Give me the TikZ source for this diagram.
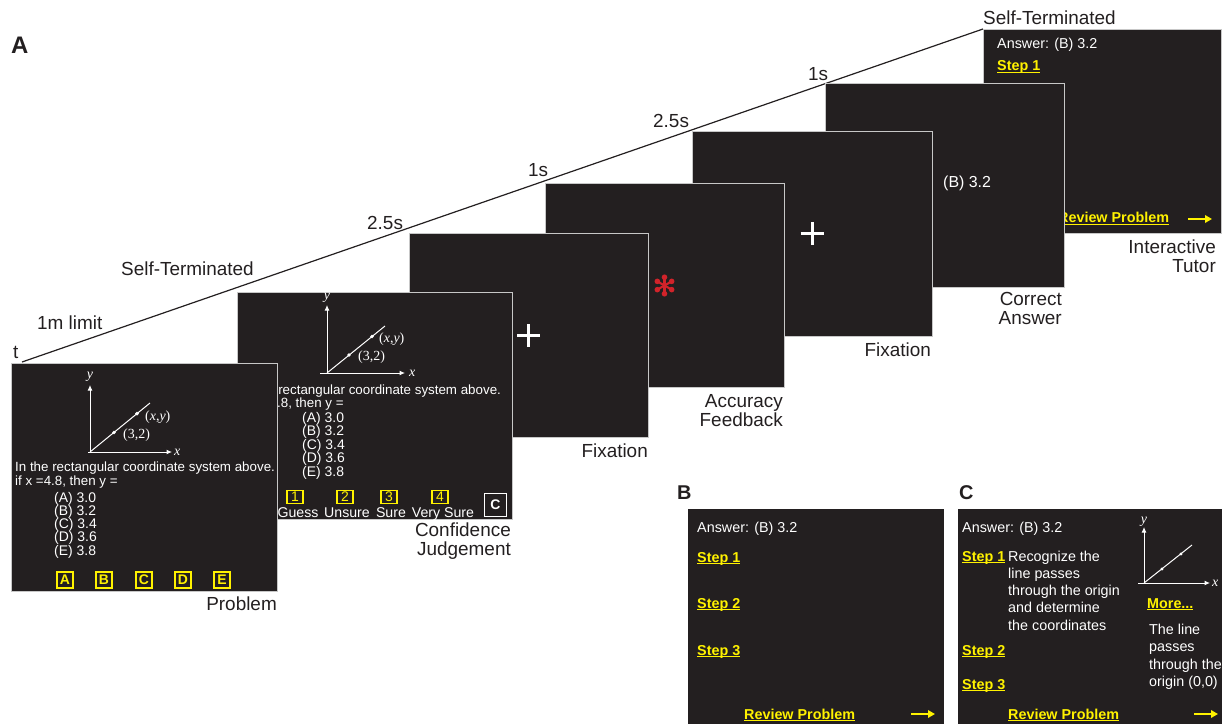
\documentclass[tikz,border=0pt]{standalone}
\usepackage{fontspec}
\setmainfont{Liberation Sans}
\newfontfamily\tms{Liberation Serif}
\usetikzlibrary{arrows.meta}
\definecolor{scr}{HTML}{231F20}
\definecolor{ylw}{HTML}{FFF200}
\definecolor{astred}{HTML}{D2232A}
\newcommand\fs[1]{\fontsize{#1}{#1}\selectfont}
\newsavebox\lnkbox
\newcommand\mylink[1]{\sbox\lnkbox{#1}\rlap{\rule[-1.9bp]{\wd\lnkbox}{1.2bp}}\usebox\lnkbox}
\begin{document}
\begin{tikzpicture}[x=1bp,y=-1bp,
  screen/.style={fill=scr, draw=black!22, line width=0.9bp, inner sep=0, outer sep=0, anchor=north west},
  panel/.style={fill=scr, inner sep=0, outer sep=0, anchor=north west},
  lbl/.style={inner sep=0, text=scr, font=\fs{19}},
  txt/.style={inner sep=0, text=white, font=\fs{14.4}},
  ptxt/.style={inner sep=0, text=white, font=\fs{13.4}},
  otxt/.style={inner sep=0, text=white, font=\fs{14}},
  ctxt/.style={inner sep=0, text=white, font=\fs{14.2}},
  link/.style={inner sep=0, text=ylw, font=\bfseries\fs{14.4}},
  ax/.style={white, line width=1bp, -{Latex[length=5.5bp,width=5bp]}},
  gl/.style={white, line width=1bp},
  gr/.style={inner sep=0, text=white, font=\tms\fs{14}},
  ybox/.style={draw=ylw, line width=1.4bp, minimum width=16bp, minimum height=16bp, inner sep=0, text=ylw, font=\bfseries\fs{14}},
  nbox/.style={draw=ylw, line width=1.1bp, minimum width=16bp, minimum height=13.5bp, inner sep=0, text=ylw, font=\fs{14}},
  yarrow/.style={ylw, line width=2.5bp, -{Triangle[length=7bp,width=7.5bp]}},
  plus/.style={white, line width=3bp},
]
\useasboundingbox (0,0) rectangle (1222,724);

% ---------- timeline ----------
\coordinate (t0) at (22,362);
\coordinate (t1) at (983,29);
\draw[scr, line width=1.2bp] (t0) -- (t1);

% ---------- labels on timeline ----------
\node[lbl, anchor=base west] (lA) at (11,54) {\bfseries\fs{24}A};
\node[lbl, anchor=base west] (lt) at (13,358) {t};
\node[lbl, anchor=base west] (l1m) at (37,329) {1m limit};
\node[lbl, anchor=base west] (lst1) at (121,275) {Self-Terminated};
\node[lbl, anchor=base west] (l25a) at (367,230) {2.5s};
\node[lbl, anchor=base west] (l1a) at (528,177) {1s};
\node[lbl, anchor=base west] (l25b) at (653,128) {2.5s};
\node[lbl, anchor=base west] (l1b) at (808,81) {1s};
\node[lbl, anchor=base west] (lst2) at (983,25) {Self-Terminated};

% ---------- Interactive tutor ----------
\node[screen, minimum width=238bp, minimum height=204bp] (tut) at (983,29) {};
\node[txt, anchor=base west] (tutans) at (997,49) {Answer: (B) 3.2};
\node[link, anchor=base west] (tutst1) at (997,71) {\mylink{Step 1}};
\node[link, anchor=base west] (tutrev) at (1058,223) {\mylink{Review Problem}};
\coordinate (tua0) at (1188,219);
\coordinate (tua1) at (1212,219);
\draw[yarrow] (tua0) -- (tua1);
\node[lbl, anchor=base east] (lint) at (1216,253.5) {Interactive};
\node[lbl, anchor=base east] (ltut) at (1216,272.5) {Tutor};

% ---------- Correct answer ----------
\node[screen, minimum width=239bp, minimum height=204bp] (cor) at (825,83) {};
\node[inner sep=0, text=white, font=\fs{16}, anchor=base west] (corans) at (943,188) {(B) 3.2};
\node[lbl, anchor=base east] (lcor) at (1062,305.5) {Correct};
\node[lbl, anchor=base east] (lcan) at (1062,324) {Answer};

% ---------- Fixation 2 ----------
\node[screen, minimum width=240bp, minimum height=205bp] (fx2) at (692,131) {};
\coordinate (p2) at (812,233.5);
\draw[plus] ([xshift=-11.5bp]p2) -- ([xshift=11.5bp]p2);
\draw[plus] ([yshift=-11.5bp]p2) -- ([yshift=11.5bp]p2);
\node[lbl, anchor=base east] (lfx2) at (931,356) {Fixation};

% ---------- Accuracy feedback ----------
\node[screen, minimum width=239bp, minimum height=204bp] (acc) at (545,183) {};
\coordinate (ast) at (664.5,285.5);
\foreach \a in {90,30,-30,-90,150,210}{
  \draw[astred, line width=2.1bp] (ast) -- ++(\a:8);
  \fill[astred] (ast) ++(\a:8.3) circle (2.8bp);
}
\node[lbl, anchor=base east] (lacc) at (783,407.5) {Accuracy};
\node[lbl, anchor=base east] (lfb) at (783,426) {Feedback};

% ---------- Fixation 1 ----------
\node[screen, minimum width=239bp, minimum height=204bp] (fx1) at (409,233) {};
\coordinate (p1) at (528.5,335);
\draw[plus] ([xshift=-11.5bp]p1) -- ([xshift=11.5bp]p1);
\draw[plus] ([yshift=-11.5bp]p1) -- ([yshift=11.5bp]p1);
\node[lbl, anchor=base east] (lfx1) at (648,457) {Fixation};

% ---------- Confidence judgement ----------
\node[screen, minimum width=275bp, minimum height=227bp] (conf) at (237,292) {};
\coordinate (co) at (327,373);
\coordinate (cy) at (327,305);
\coordinate (cx0) at (320,373);
\coordinate (cx) at (405,373);
\coordinate (cl) at (385,326);
\draw[ax] (co) -- (cy);
\draw[ax] (cx0) -- (cx);
\draw[gl] (co) -- (cl);
\fill[white] (349,355) circle (1.9bp) (372,336.5) circle (1.9bp);
\node[gr, anchor=base] (cyl) at (327,299) {\itshape y};
\node[gr, anchor=base west] (cxl) at (409,376) {\itshape x};
\node[gr, anchor=base west] (cxy) at (379,342) {(\textit{x},\textit{y})};
\node[gr, anchor=base west] (c32) at (358,360) {(3,2)};
\node[ptxt, anchor=base west] (cq1) at (241,394) {In the rectangular coordinate system above.};
\node[ptxt, anchor=base west] (cq2) at (241,407) {if x =4.8, then y =};
\node[otxt, anchor=base west] (coA) at (302,422) {(A) 3.0};
\node[otxt, anchor=base west] (coB) at (302,435.5) {(B) 3.2};
\node[otxt, anchor=base west] (coC) at (302,449) {(C) 3.4};
\node[otxt, anchor=base west] (coD) at (302,462.5) {(D) 3.6};
\node[otxt, anchor=base west] (coE) at (302,476) {(E) 3.8};
\node[nbox] (cb1) at (295,497) {1};
\node[nbox] (cb2) at (345,497) {2};
\node[nbox] (cb3) at (389,497) {3};
\node[nbox] (cb4) at (440,497) {4};
\node[ctxt, anchor=base] (cg) at (298,517) {Guess};
\node[ctxt, anchor=base] (cu) at (347,517) {Unsure};
\node[ctxt, anchor=base] (cs) at (391,517) {Sure};
\node[ctxt, anchor=base] (cv) at (443,517) {Very Sure};
\node[draw=white, line width=1.3bp, minimum width=22bp, minimum height=23bp, inner sep=0, text=white, font=\bfseries\fs{14}] (cC) at (495.5,505) {C};
\node[lbl, anchor=base east] (lcf) at (511,536) {Confidence};
\node[lbl, anchor=base east] (ljd) at (511,555) {Judgement};

% ---------- Problem ----------
\node[screen, minimum width=266bp, minimum height=228bp] (prob) at (11,363) {};
\coordinate (po) at (90,452);
\coordinate (py) at (90,385);
\coordinate (px0) at (88,452);
\coordinate (px) at (172,452);
\coordinate (pl) at (150,403);
\draw[ax] (po) -- (py);
\draw[ax] (px0) -- (px);
\draw[gl] (po) -- (pl);
\fill[white] (114,432.4) circle (1.9bp) (137,413.6) circle (1.9bp);
\node[gr, anchor=base] (pyl) at (90,378) {\itshape y};
\node[gr, anchor=base west] (pxl) at (174,455) {\itshape x};
\node[gr, anchor=base west] (pxy) at (145,420) {(\textit{x},\textit{y})};
\node[gr, anchor=base west] (p32) at (123,438) {(3,2)};
\node[ptxt, anchor=base west] (pq1) at (15,471) {In the rectangular coordinate system above.};
\node[ptxt, anchor=base west] (pq2) at (15,485) {if x =4.8, then y =};
\node[otxt, anchor=base west] (poA) at (54,502) {(A) 3.0};
\node[otxt, anchor=base west] (poB) at (54,515.3) {(B) 3.2};
\node[otxt, anchor=base west] (poC) at (54,528.6) {(C) 3.4};
\node[otxt, anchor=base west] (poD) at (54,541.9) {(D) 3.6};
\node[otxt, anchor=base west] (poE) at (54,555.2) {(E) 3.8};
\node[ybox] (pbA) at (65,580) {A};
\node[ybox] (pbB) at (104,580) {B};
\node[ybox] (pbC) at (144,580) {C};
\node[ybox] (pbD) at (183,580) {D};
\node[ybox] (pbE) at (222,580) {E};
\node[lbl, anchor=base east] (lpr) at (277,610) {Problem};

% ---------- Panel B ----------
\node[lbl, anchor=base west] (lB) at (677,499) {\bfseries\fs{20}B};
\node[panel, minimum width=256bp, minimum height=217bp] (pB) at (688,509) {};
\node[txt, anchor=base west] (bans) at (697,532) {Answer: (B) 3.2};
\node[link, anchor=base west] (bst1) at (697,562) {\mylink{Step 1}};
\node[link, anchor=base west] (bst2) at (697,608) {\mylink{Step 2}};
\node[link, anchor=base west] (bst3) at (697,655) {\mylink{Step 3}};
\node[link, anchor=base west] (brev) at (744,719) {\mylink{Review Problem}};
\coordinate (ba0) at (911,714);
\coordinate (ba1) at (935,714);
\draw[yarrow] (ba0) -- (ba1);

% ---------- Panel C ----------
\node[lbl, anchor=base west] (lC) at (959,499) {\bfseries\fs{20}C};
\node[panel, minimum width=265bp, minimum height=217bp] (pC) at (958,509) {};
\node[txt, anchor=base west] (cans) at (962,532) {Answer: (B) 3.2};
\node[link, anchor=base west] (cst1) at (962,561) {\mylink{Step 1}};
\node[txt, anchor=base west] (cr1) at (1008,561) {Recognize the};
\node[txt, anchor=base west] (cr2) at (1008,578.3) {line passes};
\node[txt, anchor=base west] (cr3) at (1008,595.6) {through the origin};
\node[txt, anchor=base west] (cr4) at (1008,612.9) {and determine};
\node[txt, anchor=base west] (cr5) at (1008,630.2) {the coordinates};
\node[link, anchor=base west] (cst2) at (962,655) {\mylink{Step 2}};
\node[link, anchor=base west] (cst3) at (962,689) {\mylink{Step 3}};
\node[link, anchor=base west] (crev) at (1008,719) {\mylink{Review Problem}};
\coordinate (ca0) at (1194,714);
\coordinate (ca1) at (1218,714);
\draw[yarrow] (ca0) -- (ca1);
\coordinate (go) at (1144,583);
\coordinate (gy) at (1144,527);
\coordinate (gx0) at (1138,583);
\coordinate (gx) at (1210,583);
\coordinate (gl1) at (1192,545);
\draw[ax] (go) -- (gy);
\draw[ax] (gx0) -- (gx);
\draw[gl] (go) -- (gl1);
\fill[white] (1162,569) circle (1.7bp) (1181,554) circle (1.7bp);
\node[gr, anchor=base] (gyl) at (1144,523) {\itshape y};
\node[gr, anchor=base west] (gxl) at (1212,586) {\itshape x};
\node[link, anchor=base west] (cmore) at (1147,608) {\mylink{More...}};
\node[txt, anchor=base west] (cm1) at (1149,634) {The line};
\node[txt, anchor=base west] (cm2) at (1149,651.5) {passes};
\node[txt, anchor=base west] (cm3) at (1149,669) {through the};
\node[txt, anchor=base west] (cm4) at (1149,686.5) {origin (0,0)};
\end{tikzpicture}
\end{document}
